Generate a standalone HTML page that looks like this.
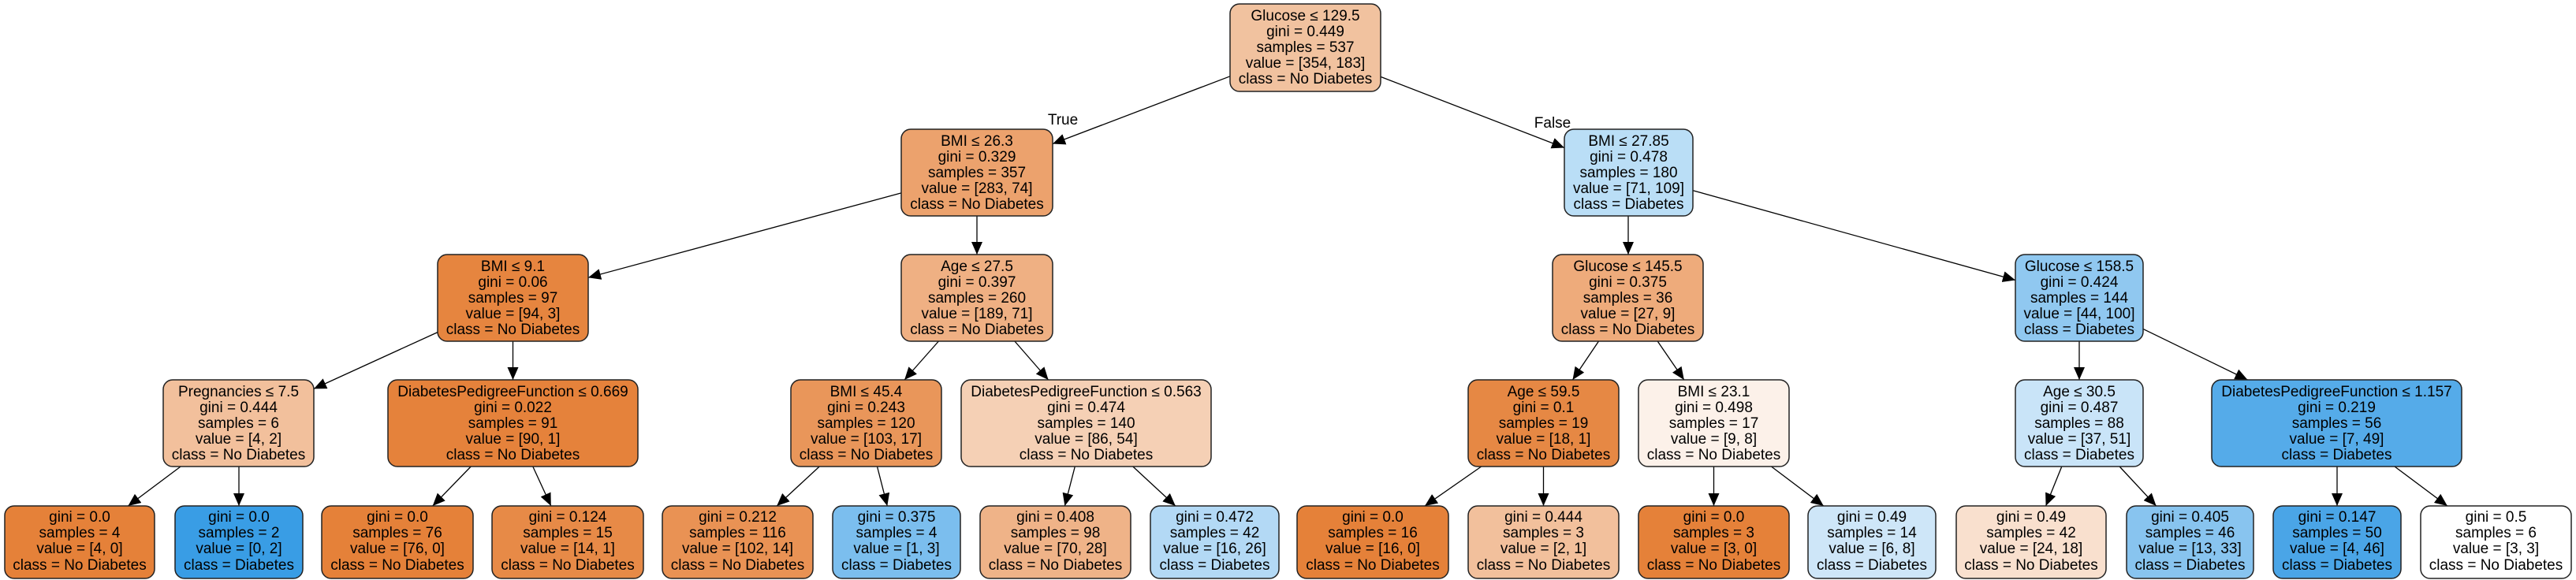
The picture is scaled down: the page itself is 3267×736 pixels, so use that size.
<!DOCTYPE html>
<html><head><meta charset="utf-8"><style>
html,body{margin:0;padding:0;background:#fff;width:3267px;height:736px;overflow:hidden}
svg text{font-family:"Liberation Sans",Arial,sans-serif;font-size:19px;fill:#000;text-anchor:middle}
rect{stroke:#222;stroke-width:1.5}
line{stroke:#000;stroke-width:1.3}
</style></head><body>
<svg width="3267" height="736" viewBox="0 0 3267 736" xmlns="http://www.w3.org/2000/svg">
<defs><marker id="a" markerUnits="userSpaceOnUse" markerWidth="18" markerHeight="14" refX="16" refY="7" orient="auto"><polygon points="0,0 16,7 0,14" fill="#000"/></marker></defs>
<g>
<line x1="1560" y1="96.8" x2="1335" y2="182.5" marker-end="url(#a)"/>
<line x1="1751" y1="97.4" x2="1984" y2="187.5" marker-end="url(#a)"/>
<line x1="1143" y1="244.9" x2="746" y2="352.2" marker-end="url(#a)"/>
<line x1="1239" y1="274" x2="1239" y2="323" marker-end="url(#a)"/>
<line x1="2065" y1="274" x2="2065" y2="323" marker-end="url(#a)"/>
<line x1="2147" y1="241.7" x2="2556" y2="355.5" marker-end="url(#a)"/>
<line x1="555" y1="421.6" x2="398" y2="493.4" marker-end="url(#a)"/>
<line x1="650.5" y1="433" x2="650.5" y2="482" marker-end="url(#a)"/>
<line x1="1190.4" y1="433" x2="1147.1" y2="482" marker-end="url(#a)"/>
<line x1="1286.9" y1="433" x2="1329.6" y2="482" marker-end="url(#a)"/>
<line x1="2027.5" y1="433" x2="1994.5" y2="482" marker-end="url(#a)"/>
<line x1="2102.2" y1="433" x2="2135.8" y2="482" marker-end="url(#a)"/>
<line x1="2637" y1="433" x2="2637" y2="482" marker-end="url(#a)"/>
<line x1="2718" y1="417.4" x2="2850.5" y2="482" marker-end="url(#a)"/>
<line x1="229.1" y1="592" x2="162.4" y2="642" marker-end="url(#a)"/>
<line x1="303" y1="592" x2="303" y2="642" marker-end="url(#a)"/>
<line x1="597.2" y1="592" x2="548.7" y2="642" marker-end="url(#a)"/>
<line x1="675.8" y1="592" x2="698.8" y2="642" marker-end="url(#a)"/>
<line x1="1039.2" y1="592" x2="985.2" y2="642" marker-end="url(#a)"/>
<line x1="1112.5" y1="592" x2="1125.3" y2="642" marker-end="url(#a)"/>
<line x1="1363.3" y1="592" x2="1350.4" y2="642" marker-end="url(#a)"/>
<line x1="1436.8" y1="592" x2="1490.8" y2="642" marker-end="url(#a)"/>
<line x1="1878.7" y1="592" x2="1807" y2="642" marker-end="url(#a)"/>
<line x1="1957.5" y1="592" x2="1957.5" y2="642" marker-end="url(#a)"/>
<line x1="2173.5" y1="592" x2="2173.5" y2="642" marker-end="url(#a)"/>
<line x1="2246.5" y1="592" x2="2312.8" y2="642" marker-end="url(#a)"/>
<line x1="2614.8" y1="592" x2="2594.6" y2="642" marker-end="url(#a)"/>
<line x1="2688.1" y1="592" x2="2734.6" y2="642" marker-end="url(#a)"/>
<line x1="2964" y1="592" x2="2964" y2="642" marker-end="url(#a)"/>
<line x1="3037" y1="592" x2="3103.9" y2="642" marker-end="url(#a)"/>
</g>
<text x="1348" y="158">True</text>
<text x="1969" y="162">False</text>

<!-- row 0 -->
<rect x="1560" y="5" width="191" height="111" rx="12" fill="#f1c29f"/>
<text x="1655.5" y="26">Glucose ≤ 129.5</text><text x="1655.5" y="46">gini = 0.449</text><text x="1655.5" y="66">samples = 537</text><text x="1655.5" y="86">value = [354, 183]</text><text x="1655.5" y="106">class = No Diabetes</text>

<!-- row 1 -->
<rect x="1143" y="164" width="192" height="110" rx="12" fill="#eca26d"/>
<text x="1239" y="185">BMI ≤ 26.3</text><text x="1239" y="205">gini = 0.329</text><text x="1239" y="225">samples = 357</text><text x="1239" y="245">value = [283, 74]</text><text x="1239" y="265">class = No Diabetes</text>
<rect x="1984" y="164" width="163" height="110" rx="12" fill="#badef6"/>
<text x="2065.5" y="185">BMI ≤ 27.85</text><text x="2065.5" y="205">gini = 0.478</text><text x="2065.5" y="225">samples = 180</text><text x="2065.5" y="245">value = [71, 109]</text><text x="2065.5" y="265">class = Diabetes</text>

<!-- row 2 -->
<rect x="555" y="323" width="191" height="110" rx="12" fill="#e6853f"/>
<text x="650.5" y="344">BMI ≤ 9.1</text><text x="650.5" y="364">gini = 0.06</text><text x="650.5" y="384">samples = 97</text><text x="650.5" y="404">value = [94, 3]</text><text x="650.5" y="424">class = No Diabetes</text>
<rect x="1143" y="323" width="192" height="110" rx="12" fill="#efb083"/>
<text x="1239" y="344">Age ≤ 27.5</text><text x="1239" y="364">gini = 0.397</text><text x="1239" y="384">samples = 260</text><text x="1239" y="404">value = [189, 71]</text><text x="1239" y="424">class = No Diabetes</text>
<rect x="1969" y="323" width="191" height="110" rx="12" fill="#eeab7b"/>
<text x="2064.5" y="344">Glucose ≤ 145.5</text><text x="2064.5" y="364">gini = 0.375</text><text x="2064.5" y="384">samples = 36</text><text x="2064.5" y="404">value = [27, 9]</text><text x="2064.5" y="424">class = No Diabetes</text>
<rect x="2556" y="323" width="162" height="110" rx="12" fill="#90c8f0"/>
<text x="2637" y="344">Glucose ≤ 158.5</text><text x="2637" y="364">gini = 0.424</text><text x="2637" y="384">samples = 144</text><text x="2637" y="404">value = [44, 100]</text><text x="2637" y="424">class = Diabetes</text>

<!-- row 3 -->
<rect x="207" y="482" width="191" height="110" rx="12" fill="#f2c09c"/>
<text x="302.5" y="503">Pregnancies ≤ 7.5</text><text x="302.5" y="523">gini = 0.444</text><text x="302.5" y="543">samples = 6</text><text x="302.5" y="563">value = [4, 2]</text><text x="302.5" y="583">class = No Diabetes</text>
<rect x="492" y="482" width="317" height="110" rx="12" fill="#e5823b"/>
<text x="650.5" y="503">DiabetesPedigreeFunction ≤ 0.669</text><text x="650.5" y="523">gini = 0.022</text><text x="650.5" y="543">samples = 91</text><text x="650.5" y="563">value = [90, 1]</text><text x="650.5" y="583">class = No Diabetes</text>
<rect x="1003" y="482" width="191" height="110" rx="12" fill="#e9965a"/>
<text x="1098.5" y="503">BMI ≤ 45.4</text><text x="1098.5" y="523">gini = 0.243</text><text x="1098.5" y="543">samples = 120</text><text x="1098.5" y="563">value = [103, 17]</text><text x="1098.5" y="583">class = No Diabetes</text>
<rect x="1219" y="482" width="317" height="110" rx="12" fill="#f5d0b5"/>
<text x="1377.5" y="503">DiabetesPedigreeFunction ≤ 0.563</text><text x="1377.5" y="523">gini = 0.474</text><text x="1377.5" y="543">samples = 140</text><text x="1377.5" y="563">value = [86, 54]</text><text x="1377.5" y="583">class = No Diabetes</text>
<rect x="1862" y="482" width="191" height="110" rx="12" fill="#e68844"/>
<text x="1957.5" y="503">Age ≤ 59.5</text><text x="1957.5" y="523">gini = 0.1</text><text x="1957.5" y="543">samples = 19</text><text x="1957.5" y="563">value = [18, 1]</text><text x="1957.5" y="583">class = No Diabetes</text>
<rect x="2078" y="482" width="191" height="110" rx="12" fill="#fcf1e9"/>
<text x="2173.5" y="503">BMI ≤ 23.1</text><text x="2173.5" y="523">gini = 0.498</text><text x="2173.5" y="543">samples = 17</text><text x="2173.5" y="563">value = [9, 8]</text><text x="2173.5" y="583">class = No Diabetes</text>
<rect x="2556" y="482" width="162" height="110" rx="12" fill="#c9e4f8"/>
<text x="2637" y="503">Age ≤ 30.5</text><text x="2637" y="523">gini = 0.487</text><text x="2637" y="543">samples = 88</text><text x="2637" y="563">value = [37, 51]</text><text x="2637" y="583">class = Diabetes</text>
<rect x="2805" y="482" width="317" height="110" rx="12" fill="#55abe9"/>
<text x="2963.5" y="503">DiabetesPedigreeFunction ≤ 1.157</text><text x="2963.5" y="523">gini = 0.219</text><text x="2963.5" y="543">samples = 56</text><text x="2963.5" y="563">value = [7, 49]</text><text x="2963.5" y="583">class = Diabetes</text>

<!-- row 4 leaves -->
<rect x="6" y="642" width="190" height="92" rx="12" fill="#e58139"/>
<text x="101" y="662">gini = 0.0</text><text x="101" y="682">samples = 4</text><text x="101" y="702">value = [4, 0]</text><text x="101" y="723">class = No Diabetes</text>
<rect x="222" y="642" width="162" height="92" rx="12" fill="#399de5"/>
<text x="303" y="662">gini = 0.0</text><text x="303" y="682">samples = 2</text><text x="303" y="702">value = [0, 2]</text><text x="303" y="723">class = Diabetes</text>
<rect x="408" y="642" width="192" height="92" rx="12" fill="#e58139"/>
<text x="504" y="662">gini = 0.0</text><text x="504" y="682">samples = 76</text><text x="504" y="702">value = [76, 0]</text><text x="504" y="723">class = No Diabetes</text>
<rect x="624" y="642" width="192" height="92" rx="12" fill="#e78a47"/>
<text x="720" y="662">gini = 0.124</text><text x="720" y="682">samples = 15</text><text x="720" y="702">value = [14, 1]</text><text x="720" y="723">class = No Diabetes</text>
<rect x="840" y="642" width="191" height="92" rx="12" fill="#e99254"/>
<text x="935.5" y="662">gini = 0.212</text><text x="935.5" y="682">samples = 116</text><text x="935.5" y="702">value = [102, 14]</text><text x="935.5" y="723">class = No Diabetes</text>
<rect x="1056" y="642" width="162" height="92" rx="12" fill="#7bbeee"/>
<text x="1137" y="662">gini = 0.375</text><text x="1137" y="682">samples = 4</text><text x="1137" y="702">value = [1, 3]</text><text x="1137" y="723">class = Diabetes</text>
<rect x="1243" y="642" width="191" height="92" rx="12" fill="#efb388"/>
<text x="1338.5" y="662">gini = 0.408</text><text x="1338.5" y="682">samples = 98</text><text x="1338.5" y="702">value = [70, 28]</text><text x="1338.5" y="723">class = No Diabetes</text>
<rect x="1459" y="642" width="163" height="92" rx="12" fill="#b3d9f5"/>
<text x="1540.5" y="662">gini = 0.472</text><text x="1540.5" y="682">samples = 42</text><text x="1540.5" y="702">value = [16, 26]</text><text x="1540.5" y="723">class = Diabetes</text>
<rect x="1645" y="642" width="192" height="92" rx="12" fill="#e58139"/>
<text x="1741" y="662">gini = 0.0</text><text x="1741" y="682">samples = 16</text><text x="1741" y="702">value = [16, 0]</text><text x="1741" y="723">class = No Diabetes</text>
<rect x="1862" y="642" width="191" height="92" rx="12" fill="#f2c09c"/>
<text x="1957.5" y="662">gini = 0.444</text><text x="1957.5" y="682">samples = 3</text><text x="1957.5" y="702">value = [2, 1]</text><text x="1957.5" y="723">class = No Diabetes</text>
<rect x="2078" y="642" width="191" height="92" rx="12" fill="#e58139"/>
<text x="2173.5" y="662">gini = 0.0</text><text x="2173.5" y="682">samples = 3</text><text x="2173.5" y="702">value = [3, 0]</text><text x="2173.5" y="723">class = No Diabetes</text>
<rect x="2293" y="642" width="162" height="92" rx="12" fill="#cee6f8"/>
<text x="2374" y="662">gini = 0.49</text><text x="2374" y="682">samples = 14</text><text x="2374" y="702">value = [6, 8]</text><text x="2374" y="723">class = Diabetes</text>
<rect x="2481" y="642" width="190" height="92" rx="12" fill="#f9e0ce"/>
<text x="2576" y="662">gini = 0.49</text><text x="2576" y="682">samples = 42</text><text x="2576" y="702">value = [24, 18]</text><text x="2576" y="723">class = No Diabetes</text>
<rect x="2697" y="642" width="161" height="92" rx="12" fill="#88c4ef"/>
<text x="2777.5" y="662">gini = 0.405</text><text x="2777.5" y="682">samples = 46</text><text x="2777.5" y="702">value = [13, 33]</text><text x="2777.5" y="723">class = Diabetes</text>
<rect x="2883" y="642" width="162" height="92" rx="12" fill="#4aa5e7"/>
<text x="2964" y="662">gini = 0.147</text><text x="2964" y="682">samples = 50</text><text x="2964" y="702">value = [4, 46]</text><text x="2964" y="723">class = Diabetes</text>
<rect x="3070" y="642" width="191" height="92" rx="12" fill="#ffffff"/>
<text x="3165.5" y="662">gini = 0.5</text><text x="3165.5" y="682">samples = 6</text><text x="3165.5" y="702">value = [3, 3]</text><text x="3165.5" y="723">class = No Diabetes</text>
</svg>
</body></html>
